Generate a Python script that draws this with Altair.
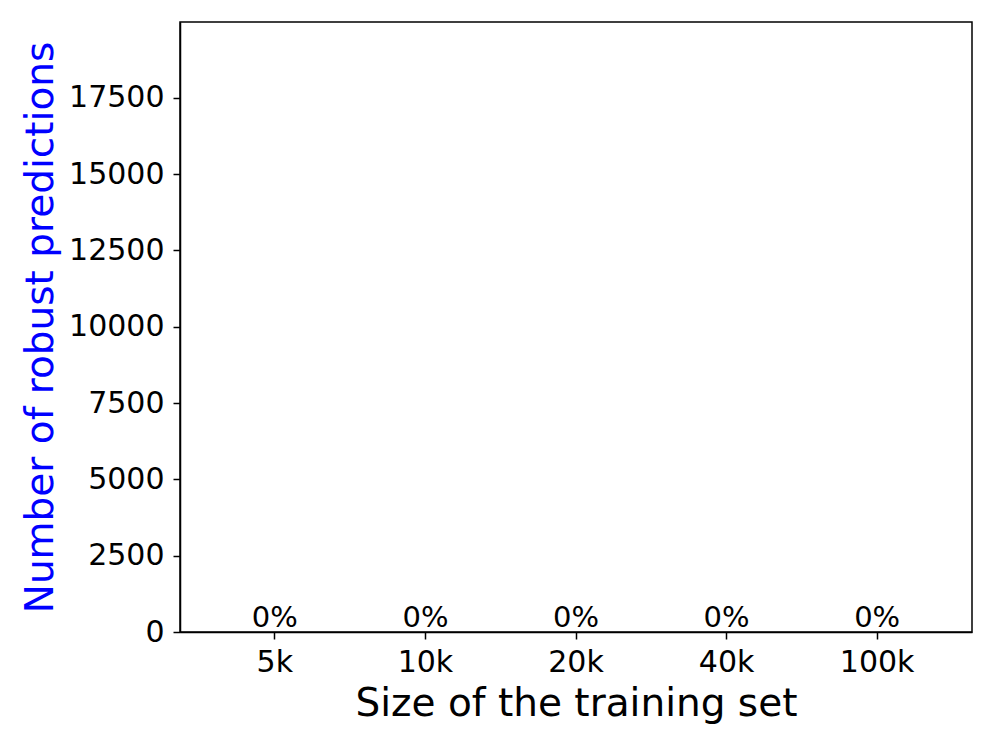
import altair as alt
import pandas as pd

categories = ["5k", "10k", "20k", "40k", "100k"]
robust_counts = [0, 0, 0, 0, 0]
pct_labels = ["0%", "0%", "0%", "0%", "0%"]

df = pd.DataFrame({"size": categories, "count": robust_counts, "label": pct_labels})

FONT = "DejaVu Sans"

x_enc = alt.X(
    "size:N",
    sort=categories,
    scale=alt.Scale(paddingInner=0.3, paddingOuter=0.28),
    axis=alt.Axis(
        title="Size of the training set",
        labelAngle=0,
        labelFontSize=30,
        labelFont=FONT,
        labelColor="black",
        labelBaseline="alphabetic",
        labelPadding=32,
        tickSize=7,
        tickColor="black",
        tickWidth=1.5,
        domainColor="black",
        domainWidth=1.5,
        titleFont=FONT,
        titleFontSize=39,
        titleFontWeight="normal",
        titleColor="black",
        titleX=396,
        titleY=83,
        titleBaseline="alphabetic",
        titleAlign="center",
        grid=False,
    ),
)

y_scale = alt.Scale(domain=[0, 19980], nice=False, zero=True)

bars = alt.Chart(df).mark_bar(color="#1f77b4").encode(
    x=x_enc,
    y=alt.Y(
        "count:Q",
        scale=y_scale,
        axis=alt.Axis(
            title="Number of robust predictions",
            values=[0, 2500, 5000, 7500, 10000, 12500, 15000, 17500],
            format="d",
            labelFontSize=30,
            labelFont=FONT,
            labelColor="black",
            labelPadding=9,
            tickSize=7,
            tickColor="black",
            tickWidth=1.5,
            domainColor="black",
            domainWidth=1.5,
            titleFont=FONT,
            titleFontSize=39,
            titleFontWeight="normal",
            titleColor="#0000ff",
            titleAngle=-90,
            titleX=-128,
            titleY=305,
            titleBaseline="alphabetic",
            titleAlign="center",
            grid=False,
        ),
    ),
)

labels = alt.Chart(df).mark_text(
    font=FONT, fontSize=29, color="black", baseline="alphabetic", dy=-5
).encode(
    x=alt.X("size:N", sort=categories),
    y=alt.Y("count:Q", scale=y_scale),
    text="label:N",
)

chart = (
    alt.layer(bars, labels)
    .properties(
        width=792,
        height=610,
        background="white",
        autosize=alt.AutoSizeParams(type="none"),
        padding={"left": 172, "top": 14, "right": 16, "bottom": 107},
    )
    .configure_view(stroke="#000000", strokeWidth=1.5, strokeOpacity=1)
)

chart.save("out.html", embed_options={"renderer": "svg", "actions": False})
